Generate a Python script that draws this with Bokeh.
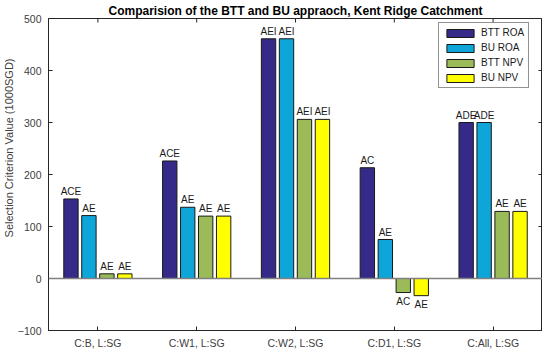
from bokeh.plotting import figure
from bokeh.models import (ColumnDataSource, Span, Legend, LegendItem,
                          FixedTicker, Range1d, Title)
from bokeh.embed import file_html
from bokeh.resources import INLINE
from bokeh.core.properties import value

categories = ["C:B, L:SG", "C:W1, L:SG", "C:W2, L:SG", "C:D1, L:SG", "C:All, L:SG"]
series = ["BTT ROA", "BU ROA", "BTT NPV", "BU NPV"]
btt_roa = [153, 226, 461, 213, 300]
bu_roa = [121, 137, 461, 75, 300]
btt_npv = [9, 120, 306, -27, 129]
bu_npv = [9, 120, 306, -33, 129]
lab_btt_roa = ["ACE", "ACE", "AEI", "AC", "ADE"]
lab_bu_roa = ["AE", "AE", "AEI", "AE", "ADE"]
lab_btt_npv = ["AE", "AE", "AEI", "AC", "AE"]
lab_bu_npv = ["AE", "AE", "AEI", "AE", "AE"]
y_ticks = [-100, 0, 100, 200, 300, 400, 500]
colors = ["#352a87", "#0ea5d9", "#9bbb59", "#ffff00"]

FONT = "Liberation Sans"
X0, X1, Y0, Y1 = 0.5, 5.5, -100, 500
FW, FH = 494, 312

p = figure(frame_width=FW, frame_height=FH, output_backend="svg", toolbar_location=None,
           x_range=Range1d(X0, X1), y_range=Range1d(Y0, Y1),
           min_border_left=0, min_border_right=0, min_border_top=12, min_border_bottom=0)
p.title.text = "Comparision of the BTT and BU appraoch, Kent Ridge Catchment"
p.title.text_font = FONT
p.title.text_font_size = "12px"
p.title.text_font_style = "bold"
p.title.text_color = "#000000"
p.title.align = "center"
p.title.standoff = 2
p.title.offset = 0

p.grid.visible = False
p.outline_line_color = "#262626"
p.background_fill_color = "white"

xs = list(range(1, len(categories) + 1))
group_w = min(0.8, 4 / 5.5)
bar_w = group_w / 4 * 0.8
offsets = [(k - 1.5) * group_w / 4 for k in range(4)]
vals = [btt_roa, bu_roa, btt_npv, bu_npv]
labs = [lab_btt_roa, lab_bu_roa, lab_btt_npv, lab_bu_npv]

p.add_layout(Span(location=0, dimension="width", line_color="#808080", line_width=1.5))

items = []
for k in range(4):
    xk = [x + offsets[k] for x in xs]
    src = ColumnDataSource(dict(x=xk, top=vals[k]))
    r = p.vbar(x="x", top="top", bottom=0, width=bar_w, source=src,
               fill_color=colors[k], line_color="#1a1a1a", line_width=1)
    items.append(LegendItem(label=series[k], renderers=[r]))
    pos = ColumnDataSource(dict(x=[a for a, v in zip(xk, vals[k]) if v >= 0],
                                y=[v for v in vals[k] if v >= 0],
                                t=[l for l, v in zip(labs[k], vals[k]) if v >= 0]))
    neg = ColumnDataSource(dict(x=[a for a, v in zip(xk, vals[k]) if v < 0],
                                y=[v for v in vals[k] if v < 0],
                                t=[l for l, v in zip(labs[k], vals[k]) if v < 0]))
    p.text(x="x", y="y", text="t", source=pos, text_align="center",
           text_baseline="bottom", y_offset=-2, text_font=value(FONT),
           text_font_size="10px", text_color="#1a1a1a")
    p.text(x="x", y="y", text="t", source=neg, text_align="center",
           text_baseline="top", y_offset=3, text_font=value(FONT),
           text_font_size="10px", text_color="#1a1a1a")

for ax in [p.xaxis[0], p.yaxis[0]]:
    ax.major_tick_in = 4
    ax.major_tick_out = 0
    ax.minor_tick_line_color = None
    ax.axis_line_color = "#262626"
    ax.major_tick_line_color = "#262626"
    ax.major_label_text_font = FONT
    ax.major_label_text_font_size = "10.5px"
    ax.major_label_text_color = "#404040"

p.xaxis.ticker = FixedTicker(ticks=xs)
p.xaxis.major_label_overrides = {x: c for x, c in zip(xs, categories)}
p.xaxis.major_label_standoff = 6
p.yaxis.ticker = FixedTicker(ticks=y_ticks)
p.yaxis.major_label_standoff = 7

# mirrored inward ticks on the top and right edges of the box (4 px long)
dx = 4 * (X1 - X0) / FW
dy = 4 * (Y1 - Y0) / FH
p.segment(x0=[X1] * len(y_ticks), x1=[X1 - dx] * len(y_ticks), y0=y_ticks, y1=y_ticks,
          line_color="#262626", line_width=1)
p.segment(x0=xs, x1=xs, y0=[Y1] * len(xs), y1=[Y1 - dy] * len(xs),
          line_color="#262626", line_width=1)

ylab = Title(text="Selection Criterion Value (1000SGD)", align="right", offset=40,
             text_font=FONT, text_font_size="11px", text_font_style="normal",
             text_color="#404040", standoff=0)
p.add_layout(ylab, "left")

legend = Legend(items=items, location=(FW - 104, FH - 70), glyph_width=34, glyph_height=10,
                label_text_font=FONT, label_text_font_size="10px",
                label_text_color="#1a1a1a", spacing=4, padding=4, margin=0,
                border_line_color="#262626", label_standoff=4, label_height=10)
p.add_layout(legend, "center")

open("out.html", "w").write(file_html(p, INLINE))
